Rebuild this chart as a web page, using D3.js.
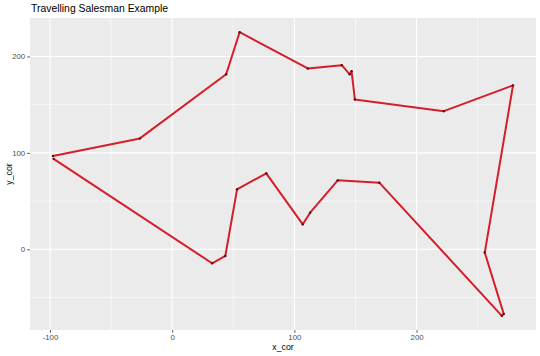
<!DOCTYPE html>
<html><head><meta charset="utf-8">
<script src="https://cdn.jsdelivr.net/npm/d3@7"></script>
<style>body{margin:0;background:#fff;} text{font-family:"Liberation Sans",Arial,sans-serif;}</style>
</head><body><svg id="c" width="540" height="356"></svg>
<script>
// Route order of the cities (x_cor, y_cor)
const xCor = [-97.5, -26.4, 44.2, 55.2, 111, 138.8, 145.3, 146.8, 149.5, 222.3, 278.9, 255.8, 271.3, 269.8, 169.5, 135.5, 112.9, 106.9, 77, 53.1, 43.5, 32.7, -97];
const yCor = [96.8, 115, 181.6, 225.2, 187.6, 191, 181.5, 184.8, 155.4, 143.3, 170, -3.4, -67, -69, 69.1, 71.5, 38, 25.9, 78.8, 62.2, -6.9, -14.5, 93.8];
const xTicks = [-100, 0, 100, 200];
const yTicks = [0, 100, 200];
const xMinor = [-50, 50, 150, 250];
const yMinor = [-50, 50, 150];
const title = "Travelling Salesman Example";

const pts = xCor.map((x, i) => ({x, y: yCor[i]}));
const svg = d3.select("#c");
const L = 30, R = 536, T = 18, B = 330;
const ex = d3.extent(xCor), ey = d3.extent(yCor);
const px = (ex[1] - ex[0]) * 0.05, py = (ey[1] - ey[0]) * 0.05;
const x = d3.scaleLinear().domain([ex[0] - px, ex[1] + px]).range([L, R]);
const y = d3.scaleLinear().domain([ey[0] - py, ey[1] + py]).range([B, T]);

svg.append("rect").attr("x", L).attr("y", T).attr("width", R - L).attr("height", B - T).attr("fill", "#EBEBEB");
const g = svg.append("g");
g.selectAll(".xm").data(xMinor).join("line").attr("x1", d => x(d)).attr("x2", d => x(d)).attr("y1", T).attr("y2", B).attr("stroke", "#fff").attr("stroke-width", 0.55);
g.selectAll(".ym").data(yMinor).join("line").attr("y1", d => y(d)).attr("y2", d => y(d)).attr("x1", L).attr("x2", R).attr("stroke", "#fff").attr("stroke-width", 0.55);
g.selectAll(".xM").data(xTicks).join("line").attr("x1", d => x(d)).attr("x2", d => x(d)).attr("y1", T).attr("y2", B).attr("stroke", "#fff").attr("stroke-width", 1.1);
g.selectAll(".yM").data(yTicks).join("line").attr("y1", d => y(d)).attr("y2", d => y(d)).attr("x1", L).attr("x2", R).attr("stroke", "#fff").attr("stroke-width", 1.1);

// axes
const xa = svg.append("g").attr("transform", `translate(0,${B})`)
  .call(d3.axisBottom(x).tickValues(xTicks).tickSize(2.8).tickPadding(2).tickFormat(d3.format("d")));
const ya = svg.append("g").attr("transform", `translate(${L},0)`)
  .call(d3.axisLeft(y).tickValues(yTicks).tickSize(2.8).tickPadding(2).tickFormat(d3.format("d")));
[xa, ya].forEach(a => {
  a.select(".domain").remove();
  a.selectAll(".tick line").attr("stroke", "#333").attr("stroke-width", 0.8);
  a.selectAll(".tick text").attr("fill", "#4D4D4D").attr("font-size", 7.8).attr("font-family", "Liberation Sans, Arial, sans-serif");
});
xa.selectAll(".tick text").text(d => d < 0 ? "-" + Math.abs(d) : d);

// path + points
const line = d3.line().x(d => x(d.x)).y(d => y(d.y));
svg.append("path").datum(pts).attr("d", line).attr("fill", "none").attr("stroke", "#D41E2A").attr("stroke-width", 2).attr("stroke-linejoin", "round");
svg.selectAll(".pt").data(pts).join("circle").attr("cx", d => x(d.x)).attr("cy", d => y(d.y)).attr("r", 1.2).attr("fill", "#5a0c12");

// titles
svg.append("text").attr("x", 31).attr("y", 12).attr("font-size", 10.4).attr("fill", "#000").text(title);
svg.append("text").attr("x", (L + R) / 2).attr("y", 350).attr("text-anchor", "middle").attr("font-size", 8.8).attr("fill", "#000").text("x_cor");
svg.append("text").attr("transform", `translate(12,${(T + B) / 2}) rotate(-90)`).attr("text-anchor", "middle").attr("font-size", 8.8).attr("fill", "#000").text("y_cor");
</script></body></html>
